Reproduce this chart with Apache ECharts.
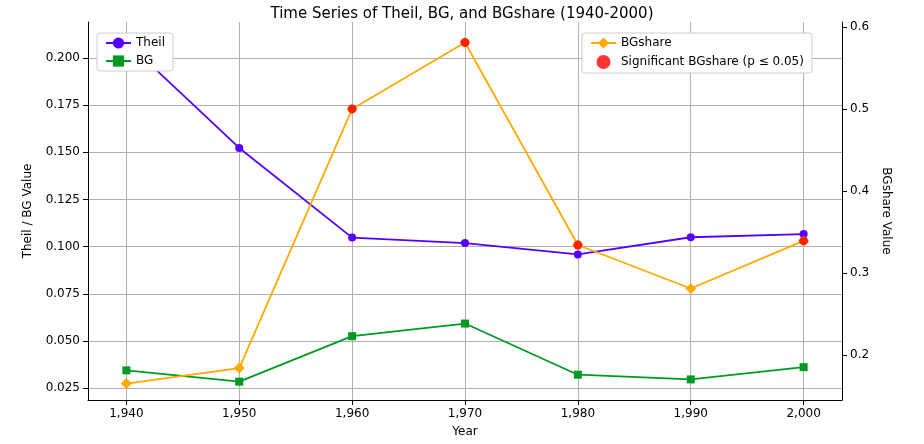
<!DOCTYPE html>
<html><head><meta charset="utf-8">
<script src="https://cdn.jsdelivr.net/npm/echarts@6/dist/echarts.min.js"></script>
<style>body{margin:0}#c{width:924px;height:444px}</style></head>
<body><div id="c"></div>
<script>
var years = [1940, 1950, 1960, 1970, 1980, 1990, 2000];
var theil = [0.2085, 0.1523, 0.1048, 0.1019, 0.0959, 0.1050, 0.1067];
var bg = [0.0345, 0.0285, 0.0526, 0.0593, 0.0322, 0.0297, 0.0362];
var bgshare = [0.165, 0.184, 0.500, 0.581, 0.334, 0.281, 0.339];
var significant = [false, false, true, true, true, false, true];
var leftTicks = [0.025, 0.05, 0.075, 0.1, 0.125, 0.15, 0.175, 0.2];
var rightTicks = [0.2, 0.3, 0.4, 0.5, 0.6];

function pairs(v){ return years.map(function(y,i){ return [y, v[i]]; }); }
var sig = [];
for (var i = 0; i < years.length; i++) if (significant[i]) sig.push([years[i], bgshare[i]]);

var font = 'DejaVu Sans';
var chart = echarts.init(document.getElementById('c'));
chart.setOption({
  animation: false,
  textStyle: {fontFamily: font},
  title: {text: 'Time Series of Theil, BG, and BGshare (1940-2000)', left: 'center', top: 2,
    textStyle: {fontSize: 15, fontWeight: 'normal', color: '#000', fontFamily: font}},
  legend: [
    {data: ['Theil', 'BG'], orient: 'vertical', left: 97, top: 33, itemGap: 6,
     backgroundColor: '#fff', borderColor: '#ccc', borderWidth: 1, borderRadius: 3, padding: [4,8],
     textStyle: {fontSize: 12, color: '#000'}},
    {data: ['BGshare', {name: 'Significant BGshare (p ≤ 0.05)', icon: 'circle'}], orient: 'vertical', left: 582, top: 33, itemGap: 6,
     backgroundColor: '#fff', borderColor: '#ccc', borderWidth: 1, borderRadius: 3, padding: [4,8],
     textStyle: {fontSize: 12, color: '#000'}}
  ],
  grid: {left: 88, right: 82, top: 22, bottom: 44},
  xAxis: {type: 'value', min: 1936.6, max: 2003.4, name: 'Year', nameLocation: 'middle', nameGap: 26,
    nameTextStyle: {fontSize: 12, color: '#000'},
    axisLine: {lineStyle: {color: '#000'}},
    axisTick: {show: true, customValues: years, lineStyle: {color: '#000'}},
    axisLabel: {customValues: years, color: '#000', fontSize: 12},
    splitLine: {show: true, lineStyle: {color: '#b0b0b0'}}},
  yAxis: [
    {type: 'value', min: 0.0188, max: 0.2190, name: 'Theil / BG Value', nameLocation: 'middle', nameGap: 54,
     nameTextStyle: {fontSize: 12, color: '#000'},
     axisLine: {show: true, lineStyle: {color: '#000'}},
     axisTick: {show: true, customValues: leftTicks, lineStyle: {color: '#000'}},
     axisLabel: {customValues: leftTicks, color: '#000', fontSize: 12, formatter: function(v){ return v.toFixed(3); }},
     splitLine: {show: true, lineStyle: {color: '#b0b0b0'}}},
    {type: 'value', min: 0.145, max: 0.606, name: 'BGshare Value', nameLocation: 'middle', nameGap: 36, nameRotate: -90,
     nameTextStyle: {fontSize: 12, color: '#000'},
     axisLine: {show: true, lineStyle: {color: '#000'}},
     axisTick: {show: true, customValues: rightTicks, lineStyle: {color: '#000'}},
     axisLabel: {customValues: rightTicks, color: '#000', fontSize: 12, formatter: function(v){ return v.toFixed(1); }},
     splitLine: {show: false}}
  ],
  series: [
    {name: 'Theil', type: 'line', data: pairs(theil), symbol: 'circle', symbolSize: 8,
     itemStyle: {color: '#5500ff'}, lineStyle: {width: 1.8}},
    {name: 'BG', type: 'line', data: pairs(bg), symbol: 'rect', symbolSize: 8,
     itemStyle: {color: '#009a22'}, lineStyle: {width: 1.8}},
    {name: 'BGshare', type: 'line', yAxisIndex: 1, data: pairs(bgshare), symbol: 'diamond', symbolSize: 11,
     itemStyle: {color: '#ffaa00'}, lineStyle: {width: 1.8}},
    {name: 'Significant BGshare (p ≤ 0.05)', type: 'scatter', yAxisIndex: 1, data: sig, symbolSize: 9,
     itemStyle: {color: '#ff0000'}, z: 5}
  ]
});
</script></body></html>
